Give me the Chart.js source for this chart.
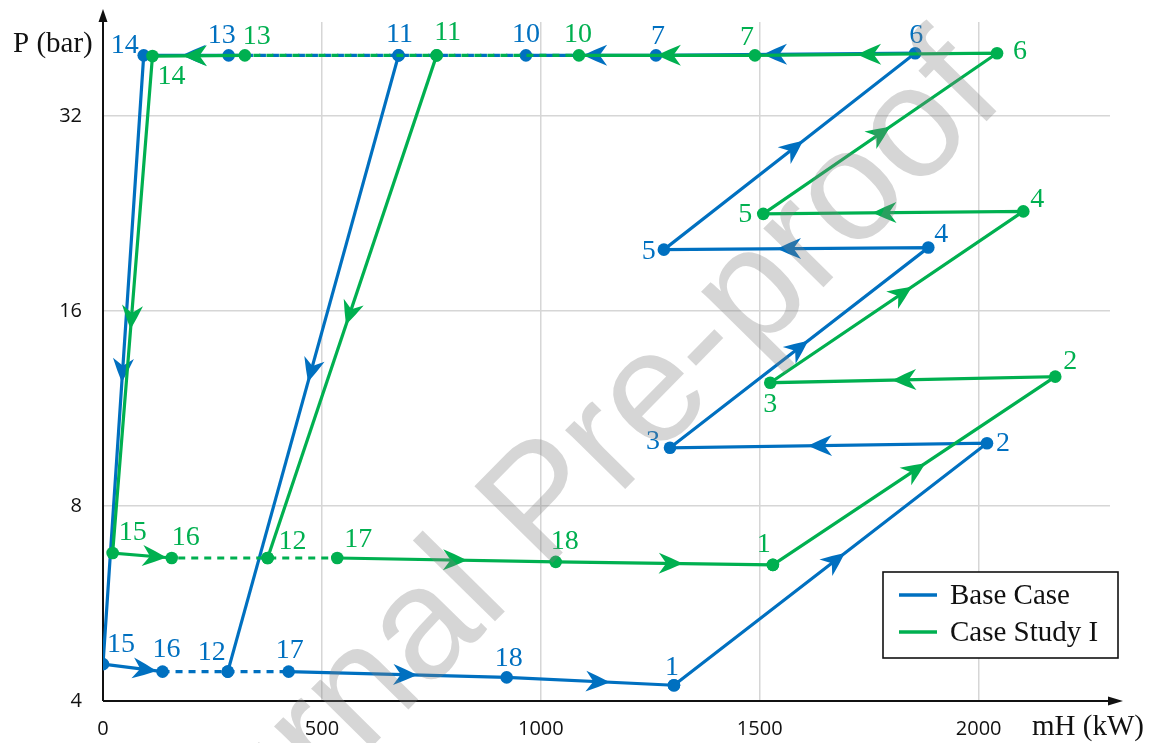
<!DOCTYPE html>
<html>
<head>
<meta charset="utf-8">
<script src="https://cdn.jsdelivr.net/npm/chart.js@4.4.1/dist/chart.umd.min.js"></script>
<style>
  html, body { margin: 0; padding: 0; background: #ffffff; }
  #wrap { width: 1153px; height: 743px; }
</style>
</head>
<body>
<div id="wrap"><canvas id="c" width="1153" height="743"></canvas></div>
<script>
// ---- State points: enthalpy flow mH (kW) and pressure P (bar) ----
const stateNames = ['1', '2', '3', '4', '5', '6', '7', '10', '11', '12', '13', '14', '15', '16', '17', '18'];

const baseH = [1304, 2019, 1295, 1885, 1281, 1855, 1263, 966, 675, 285, 287, 93, 0, 136, 424, 922];
const baseP = [4.23, 10.0, 9.84, 20.05, 19.9, 40.0, 39.7, 39.7, 39.7, 4.44, 39.7, 39.7, 4.56, 4.44, 4.44, 4.35];

const caseH = [1530, 2175, 1524, 2102, 1508, 2042, 1489, 1087, 762, 376, 324, 113, 22, 157, 535, 1034];
const caseP = [6.49, 12.67, 12.4, 22.8, 22.6, 40.0, 39.7, 39.7, 39.7, 6.65, 39.7, 39.6, 6.77, 6.65, 6.65, 6.56];

// ---- Cycle topology ----
const cyclePath = ['1', '2', '3', '4', '5', '6', '7', '10', '11', '13', '14', '15', '16', '12', '17', '18', '1'];
const branchPath = ['11', '12'];
const dashedLegs = ['10-11', '11-13', '16-12', '12-17'];

// ---- Axis ticks ----
const xTicks = [0, 500, 1000, 1500, 2000];
const yTicks = [4, 8, 16, 32];

// ---- Styling: where the direction arrows sit along each leg (fraction of leg) ----
const baseArrowAt = {
  '1-2': 0.546, '2-3': 0.565, '3-4': 0.535, '4-5': 0.572, '5-6': 0.554, '6-7': 0.587,
  '7-10': 0.56, '13-14': 0.55, '14-15': 0.537, '11-12': 0.53, '15-16': 0.9,
  '17-18': 0.59, '18-1': 0.617
};
const caseArrowAt = {
  '1-2': 0.54, '2-3': 0.572, '3-4': 0.56, '4-5': 0.58, '5-6': 0.543, '6-7': 0.578,
  '7-10': 0.557, '13-14': 0.67, '14-15': 0.55, '11-12': 0.536, '15-16': 0.91,
  '17-18': 0.594, '18-1': 0.585
};

// ---- Styling: pixel offsets of the state-number labels ----
const baseLabelShift = {
  '1': [-2, -18], '2': [16, 0], '3': [-17, -6], '4': [13, -13], '5': [-15, 2], '6': [1, -18],
  '7': [2, -19], '10': [0, -21], '11': [1, -21], '13': [-7, -20], '14': [-19, -10],
  '15': [18, -19], '16': [4, -22], '12': [-16, -19], '17': [1, -21], '18': [2, -19]
};
const caseLabelShift = {
  '1': [-9, -20], '2': [15, -15], '3': [0, 22], '4': [14, -12], '5': [-18, 1], '6': [23, -2],
  '7': [-8, -18], '10': [-1, -21], '11': [11, -23], '13': [12, -19], '14': [19, 21],
  '15': [20, -20], '16': [14, -20], '12': [25, -16], '17': [21, -18], '18': [9, -20]
};

const BLUE = '#0070C0';
const GREEN = '#00B050';

const series = [
  { label: 'Base Case', color: BLUE, H: baseH, P: baseP, arrows: baseArrowAt, shifts: baseLabelShift, order: 2, dashOffset: 0 },
  { label: 'Case Study I', color: GREEN, H: caseH, P: caseP, arrows: caseArrowAt, shifts: caseLabelShift, order: 1, dashOffset: 6.5 }
];

function statePoint(s, name) {
  const i = stateNames.indexOf(name);
  return { x: s.H[i], y: s.P[i], name: name };
}

function buildData(s) {
  return [
    ...cyclePath.map(n => statePoint(s, n)),
    { x: null, y: null, name: null },
    ...branchPath.map(n => statePoint(s, n))
  ];
}

const datasets = series.map((s, si) => {
  const data = buildData(s);
  const isDashed = ctx => {
    const a = data[ctx.p0DataIndex], b = data[ctx.p1DataIndex];
    if (!a || !b || a.name === null || b.name === null) return false;
    return dashedLegs.includes(a.name + '-' + b.name);
  };
  return {
    label: s.label,
    data: data,
    order: s.order,
    seriesIndex: si,
    showLine: true,
    spanGaps: false,
    borderColor: s.color,
    backgroundColor: s.color,
    borderWidth: 3.2,
    pointRadius: 6.3,
    pointBorderWidth: 0,
    pointHoverRadius: 6.3,
    segment: {
      borderDash: ctx => (isDashed(ctx) ? [7, 6] : undefined),
      borderDashOffset: ctx => (isDashed(ctx) ? s.dashOffset : undefined)
    }
  };
});

function drawArrowHead(ctx, x0, y0, x1, y1, t, color) {
  const dx = x1 - x0, dy = y1 - y0;
  const len = Math.hypot(dx, dy);
  if (!len) return;
  const ux = dx / len, uy = dy / len;
  const px = -uy, py = ux;
  const tx = x0 + dx * t, ty = y0 + dy * t;
  const L = 24, W = 10.5, N = 7.5;
  ctx.save();
  ctx.beginPath();
  ctx.moveTo(tx, ty);
  ctx.quadraticCurveTo(tx - ux * L * 0.5 + px * W * 0.55, ty - uy * L * 0.5 + py * W * 0.55,
                       tx - ux * L + px * W, ty - uy * L + py * W);
  ctx.lineTo(tx - ux * (L - N), ty - uy * (L - N));
  ctx.lineTo(tx - ux * L - px * W, ty - uy * L - py * W);
  ctx.quadraticCurveTo(tx - ux * L * 0.5 - px * W * 0.55, ty - uy * L * 0.5 - py * W * 0.55, tx, ty);
  ctx.closePath();
  ctx.fillStyle = color;
  ctx.fill();
  ctx.restore();
}

const cycleDecor = {
  id: 'cycleDecor',
  beforeDatasetsDraw(chart) {
    const { ctx, chartArea: a } = chart;
    ctx.save();
    ctx.strokeStyle = '#111';
    ctx.fillStyle = '#111';
    ctx.lineWidth = 2;
    // vertical axis with arrow
    ctx.beginPath();
    ctx.moveTo(a.left, a.bottom);
    ctx.lineTo(a.left, 14);
    ctx.stroke();
    ctx.beginPath();
    ctx.moveTo(a.left, 9);
    ctx.lineTo(a.left - 4.5, 22);
    ctx.lineTo(a.left + 4.5, 22);
    ctx.closePath();
    ctx.fill();
    // horizontal axis with arrow
    ctx.beginPath();
    ctx.moveTo(a.left, a.bottom);
    ctx.lineTo(1116, a.bottom);
    ctx.stroke();
    ctx.beginPath();
    ctx.moveTo(1123, a.bottom);
    ctx.lineTo(1108, a.bottom - 4.5);
    ctx.lineTo(1108, a.bottom + 4.5);
    ctx.closePath();
    ctx.fill();
    ctx.restore();
  },
  afterDatasetDraw(chart, args) {
    const ds = chart.data.datasets[args.index];
    const s = series[ds.seriesIndex];
    const xs = chart.scales.x, ys = chart.scales.y;
    const ctx = chart.ctx;
    const legs = [];
    for (let i = 0; i < cyclePath.length - 1; i++) legs.push([cyclePath[i], cyclePath[i + 1]]);
    legs.push([branchPath[0], branchPath[1]]);
    legs.forEach(([a, b]) => {
      const key = a + '-' + b;
      if (!(key in s.arrows)) return;
      const p0 = statePoint(s, a), p1 = statePoint(s, b);
      drawArrowHead(ctx,
        xs.getPixelForValue(p0.x), ys.getPixelForValue(p0.y),
        xs.getPixelForValue(p1.x), ys.getPixelForValue(p1.y),
        s.arrows[key], s.color);
    });
  },
  afterDatasetsDraw(chart) {
    const ctx = chart.ctx;
    const xs = chart.scales.x, ys = chart.scales.y;
    ctx.save();
    ctx.font = '28px "Liberation Serif", "Times New Roman", serif';
    ctx.textAlign = 'center';
    ctx.textBaseline = 'middle';
    series.forEach(s => {
      ctx.fillStyle = s.color;
      stateNames.forEach(n => {
        const p = statePoint(s, n);
        const sh = s.shifts[n];
        ctx.fillText(n, xs.getPixelForValue(p.x) + sh[0], ys.getPixelForValue(p.y) + sh[1]);
      });
    });
    ctx.restore();
  },
  afterDraw(chart) {
    const ctx = chart.ctx;
    ctx.save();
    // axis titles
    ctx.fillStyle = '#111';
    ctx.font = '29px "Liberation Serif", "Times New Roman", serif';
    ctx.textAlign = 'left';
    ctx.textBaseline = 'middle';
    ctx.fillText('P (bar)', 13, 44);
    ctx.fillText('mH (kW)', 1032, 727);
    // legend
    ctx.fillStyle = '#ffffff';
    ctx.fillRect(883, 572, 235, 86);
    ctx.strokeStyle = '#111';
    ctx.lineWidth = 1.6;
    ctx.strokeRect(883, 572, 235, 86);
    const rows = [595, 632];
    series.forEach((s, i) => {
      ctx.strokeStyle = s.color;
      ctx.lineWidth = 3.5;
      ctx.beginPath();
      ctx.moveTo(899, rows[i]);
      ctx.lineTo(937, rows[i]);
      ctx.stroke();
      ctx.fillStyle = '#111';
      ctx.fillText(s.label, 950, rows[i] + 1);
    });
    // watermark stamp
    ctx.translate(546, 507);
    ctx.rotate(-45.5 * Math.PI / 180);
    ctx.font = '159px "Liberation Sans", Arial, sans-serif';
    ctx.textAlign = 'center';
    ctx.textBaseline = 'middle';
    ctx.fillStyle = 'rgba(128,128,128,0.32)';
    ctx.fillText('Journal Pre-proof', 0, 0);
    ctx.restore();
  }
};

new Chart(document.getElementById('c'), {
  type: 'scatter',
  data: { datasets: datasets },
  options: {
    responsive: false,
    animation: false,
    devicePixelRatio: 1,
    events: [],
    layout: { padding: { top: 22, right: 43, left: 0, bottom: 0 } },
    plugins: { legend: { display: false }, tooltip: { enabled: false } },
    scales: {
      x: {
        type: 'linear',
        min: 0,
        max: 2300,
        afterBuildTicks: s => { s.ticks = xTicks.map(v => ({ value: v })); },
        afterFit: s => { s.height = 42; },
        border: { display: false },
        grid: {
          drawTicks: false,
          lineWidth: 1.5,
          color: ctx => (ctx.tick && ctx.tick.value === 0) ? 'rgba(0,0,0,0)' : '#d6d6d6'
        },
        ticks: {
          padding: 16,
          autoSkip: false,
          maxRotation: 0,
          color: '#111',
          font: { family: '"Open Sans", "Liberation Sans", sans-serif', size: 20 },
          callback: v => String(v)
        }
      },
      y: {
        type: 'logarithmic',
        min: 4,
        max: 44.7,
        afterBuildTicks: s => { s.ticks = yTicks.map(v => ({ value: v })); },
        afterFit: s => { s.width = 103; },
        border: { display: false },
        grid: {
          drawTicks: true,
          tickLength: 21,
          tickColor: 'rgba(0,0,0,0)',
          lineWidth: 1.5,
          color: ctx => (ctx.tick && ctx.tick.value === 4) ? 'rgba(0,0,0,0)' : '#d6d6d6'
        },
        ticks: {
          padding: 0,
          autoSkip: false,
          color: '#111',
          font: { family: '"Open Sans", "Liberation Sans", sans-serif', size: 20 },
          callback: v => String(v)
        }
      }
    }
  },
  plugins: [cycleDecor]
});
</script>
</body>
</html>
